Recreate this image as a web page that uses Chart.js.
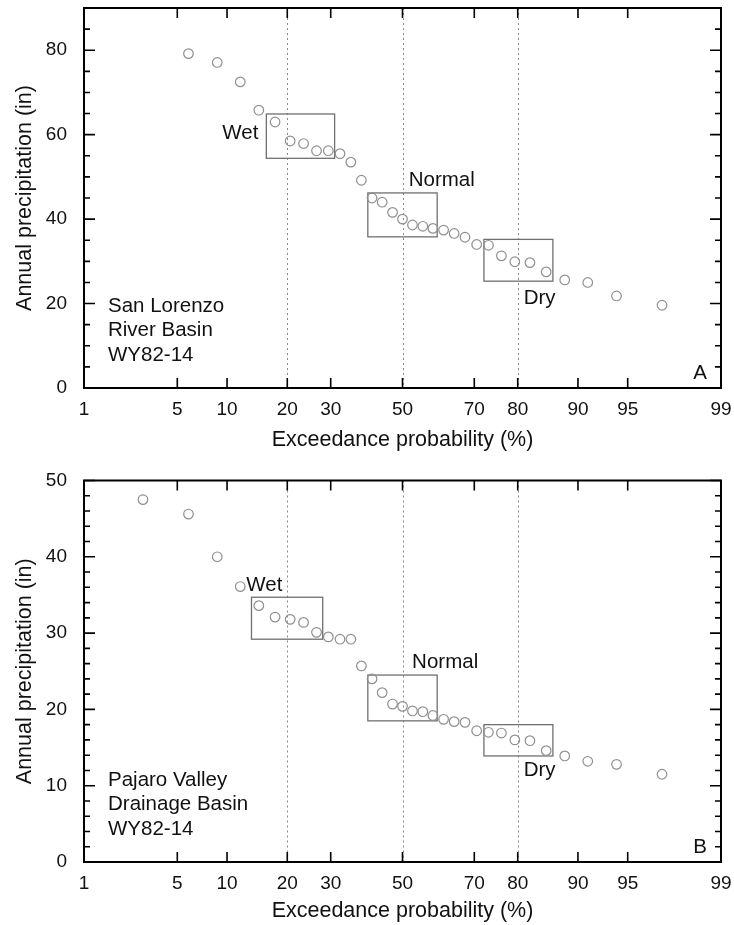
<!DOCTYPE html>
<html>
<head>
<meta charset="utf-8">
<script src="https://cdn.jsdelivr.net/npm/chart.js@4.4.1/dist/chart.umd.min.js"></script>
<style>
  html, body { margin: 0; padding: 0; background: #fff; }
  #wrap { position: relative; width: 734px; height: 925px; }
  canvas { position: absolute; left: 0; }
</style>
</head>
<body>
<div id="wrap">
  <canvas id="chartA" width="734" height="462" style="top:0"></canvas>
  <canvas id="chartB" width="734" height="463" style="top:462px"></canvas>
</div>
<script>
// x axis: exceedance probability (%), drawn on a normal-probability scale
const probTicks = [1, 5, 10, 20, 30, 50, 70, 80, 90, 95, 99];
const refLines = [20, 50, 80];
const classNames = ['Wet', 'Normal', 'Dry'];

// San Lorenzo River Basin (panel A) - wettest year is above the plot
const exceedanceA = [5.9, 8.8, 11.8, 14.7, 17.6, 20.6, 23.5, 26.5, 29.4, 32.4, 35.3, 38.2, 41.2, 44.1, 47.1, 50.0,
  52.9, 55.9, 58.8, 61.8, 64.7, 67.6, 70.6, 73.5, 76.5, 79.4, 82.4, 85.3, 88.2, 91.2, 94.1, 97.1];
const precipA = [79.2, 77.1, 72.5, 65.8, 63.0, 58.5, 57.9, 56.2, 56.2, 55.5, 53.5, 49.2, 45.0, 44.0, 41.6, 40.0,
  38.6, 38.3, 37.8, 37.4, 36.6, 35.7, 34.0, 33.8, 31.3, 29.9, 29.7, 27.5, 25.6, 25.0, 21.8, 19.6];
// boxes: [p from, p to, precip low, precip high]
const boxesA = [[16, 31, 54.4, 64.9], [40, 60, 35.8, 46.2], [72.4, 86.4, 25.3, 35.2]];
// class label anchors: [p, precip]
const labelsA = [[9.4, 60.4], [51.8, 49.2], [81.2, 21.2]];
const yTicksA = [0, 20, 40, 60, 80];

// Pajaro Valley Drainage Basin (panel B)
const exceedanceB = [2.9, 5.9, 8.8, 11.8, 14.7, 17.6, 20.6, 23.5, 26.5, 29.4, 32.4, 35.3, 38.2, 41.2, 44.1, 47.1, 50.0,
  52.9, 55.9, 58.8, 61.8, 64.7, 67.6, 70.6, 73.5, 76.5, 79.4, 82.4, 85.3, 88.2, 91.2, 94.1, 97.1];
const precipB = [47.5, 45.6, 40.0, 36.1, 33.6, 32.1, 31.8, 31.4, 30.1, 29.5, 29.2, 29.2, 25.7, 24.0, 22.2, 20.7, 20.4,
  19.8, 19.7, 19.2, 18.7, 18.4, 18.3, 17.2, 17.0, 16.9, 16.0, 15.9, 14.6, 13.9, 13.2, 12.8, 11.5];
const boxesB = [[13.5, 28, 29.2, 34.7], [40, 60, 18.5, 24.5], [72.4, 86.4, 13.9, 18.0]];
const labelsB = [[12.7, 36.2], [52.8, 26.2], [81.2, 12.0]];
const yTicksB = [0, 10, 20, 30, 40, 50];

// inverse standard normal CDF (Acklam)
function probit(p) {
  const a = [-39.6968302866538, 220.946098424521, -275.928510446969, 138.357751867269, -30.6647980661472, 2.50662827745924];
  const b = [-54.4760987982241, 161.585836858041, -155.698979859887, 66.8013118877197, -13.2806815528857];
  const c = [-0.00778489400243029, -0.322396458041136, -2.40075827716184, -2.54973253934373, 4.37466414146497, 2.93816398269878];
  const d = [0.00778469570904146, 0.32246712907004, 2.445134137143, 3.75440866190742];
  const lo = 0.02425;
  let q, r;
  if (p < lo) {
    q = Math.sqrt(-2 * Math.log(p));
    return (((((c[0]*q+c[1])*q+c[2])*q+c[3])*q+c[4])*q+c[5]) / ((((d[0]*q+d[1])*q+d[2])*q+d[3])*q+1);
  }
  if (p > 1 - lo) {
    q = Math.sqrt(-2 * Math.log(1 - p));
    return -(((((c[0]*q+c[1])*q+c[2])*q+c[3])*q+c[4])*q+c[5]) / ((((d[0]*q+d[1])*q+d[2])*q+d[3])*q+1);
  }
  q = p - 0.5; r = q * q;
  return (((((a[0]*r+a[1])*r+a[2])*r+a[3])*r+a[4])*r+a[5])*q / (((((b[0]*r+b[1])*r+b[2])*r+b[3])*r+b[4])*r+1);
}
const zx = p => probit(p / 100);

Chart.defaults.font.family = '"Liberation Sans", Arial, Helvetica, sans-serif';
Chart.defaults.font.size = 19;
Chart.defaults.color = '#111';

const FONT = '20.5px "Liberation Sans", Arial, Helvetica, sans-serif';
const TITLE_FONT = { size: 21.5 };

// frame, inward ticks, reference lines, class boxes and labels
const decor = {
  id: 'decor',
  beforeDatasetsDraw(chart, args, o) {
    const { ctx, chartArea: a, scales: { x, y } } = chart;
    ctx.save();
    ctx.strokeStyle = '#8a8a8a';
    ctx.lineWidth = 1;
    ctx.setLineDash([2, 3]);
    refLines.forEach(p => {
      const px = Math.round(x.getPixelForValue(zx(p))) + 0.5;
      ctx.beginPath(); ctx.moveTo(px, a.top); ctx.lineTo(px, a.bottom); ctx.stroke();
    });
    ctx.setLineDash([]);
    ctx.strokeStyle = '#707070';
    ctx.lineWidth = 1.3;
    o.boxes.forEach(b => {
      const x0 = x.getPixelForValue(zx(b[0])), x1 = x.getPixelForValue(zx(b[1]));
      const y0 = y.getPixelForValue(b[3]), y1 = y.getPixelForValue(b[2]);
      ctx.strokeRect(x0, y0, x1 - x0, y1 - y0);
    });
    ctx.restore();
  },
  afterDatasetsDraw(chart, args, o) {
    const { ctx, chartArea: a, scales: { x, y } } = chart;
    ctx.save();
    ctx.strokeStyle = '#000';
    ctx.lineWidth = 2;
    ctx.strokeRect(a.left, a.top, a.right - a.left, a.bottom - a.top);
    ctx.lineWidth = 1.6;
    ctx.beginPath();
    x.ticks.forEach((t, i) => {
      const px = x.getPixelForTick(i);
      ctx.moveTo(px, a.bottom); ctx.lineTo(px, a.bottom - 10);
      ctx.moveTo(px, a.top); ctx.lineTo(px, a.top + 10);
    });
    for (let v = y.min; v <= y.max + 1e-9; v += o.minor) {
      const py = y.getPixelForValue(v);
      const len = (Math.abs(v % o.major) < 1e-9) ? 11 : 6;
      ctx.moveTo(a.left, py); ctx.lineTo(a.left + len, py);
      ctx.moveTo(a.right, py); ctx.lineTo(a.right - len, py);
    }
    ctx.stroke();

    ctx.fillStyle = '#111';
    ctx.font = FONT;
    ctx.textBaseline = 'middle';
    ctx.textAlign = 'left';
    o.labels.forEach((l, i) => {
      ctx.fillText(classNames[i], x.getPixelForValue(zx(l[0])), y.getPixelForValue(l[1]));
    });
    o.site.forEach((s, i) => ctx.fillText(s, a.left + 24, a.bottom - 82 + i * 24.5));
    ctx.textAlign = 'right';
    ctx.fillText(o.letter, a.right - 14, a.bottom - 15);
    ctx.restore();
  }
};

function noPad(s) {
  s.paddingTop = 0; s.paddingBottom = 0; s.paddingLeft = 0; s.paddingRight = 0;
}

function makeChart(id, exc, precip, yMax, yTicks, opts) {
  new Chart(document.getElementById(id), {
    type: 'scatter',
    data: {
      datasets: [{
        data: exc.map((p, i) => ({ x: zx(p), y: precip[i] })),
        pointStyle: 'circle',
        pointRadius: 4.8,
        pointHoverRadius: 4.8,
        borderWidth: 1.2,
        borderColor: '#909090',
        backgroundColor: 'rgba(255,255,255,0)'
      }]
    },
    options: {
      responsive: false,
      animation: false,
      devicePixelRatio: 1,
      layout: { autoPadding: false, padding: { top: opts.top, right: 13, left: 0, bottom: 0 } },
      plugins: {
        legend: { display: false },
        tooltip: { enabled: false },
        decor: opts.decor
      },
      scales: {
        x: {
          type: 'linear',
          min: zx(probTicks[0]),
          max: zx(probTicks[probTicks.length - 1]),
          grid: { display: false, drawTicks: false },
          border: { display: false },
          afterBuildTicks: s => { s.ticks = probTicks.map(p => ({ value: zx(p) })); },
          afterFit: s => { s.height = opts.xHeight; noPad(s); },
          ticks: { autoSkip: false, maxRotation: 0, padding: 10, callback: (v, i) => probTicks[i] },
          title: { display: true, text: 'Exceedance probability (%)', font: TITLE_FONT, padding: { top: 0, bottom: opts.titlePad } }
        },
        y: {
          min: 0,
          max: yMax,
          grid: { display: false, drawTicks: false },
          border: { display: false },
          afterBuildTicks: s => { s.ticks = yTicks.map(v => ({ value: v })); },
          afterFit: s => { s.width = 84; noPad(s); },
          ticks: { padding: 17 },
          title: { display: true, text: 'Annual precipitation (in)', font: TITLE_FONT, padding: { top: 12, bottom: 0 } }
        }
      }
    },
    plugins: [decor]
  });
}

makeChart('chartA', exceedanceA, precipA, 90, yTicksA, {
  top: 8, xHeight: 74, titlePad: 9,
  decor: { boxes: boxesA, labels: labelsA, minor: 5, major: 20, site: ['San Lorenzo', 'River Basin', 'WY82-14'], letter: 'A' }
});
makeChart('chartB', exceedanceB, precipB, 50, yTicksB, {
  top: 18.5, xHeight: 63, titlePad: 1.5,
  decor: { boxes: boxesB, labels: labelsB, minor: 2, major: 10, site: ['Pajaro Valley', 'Drainage Basin', 'WY82-14'], letter: 'B' }
});
</script>
</body>
</html>
